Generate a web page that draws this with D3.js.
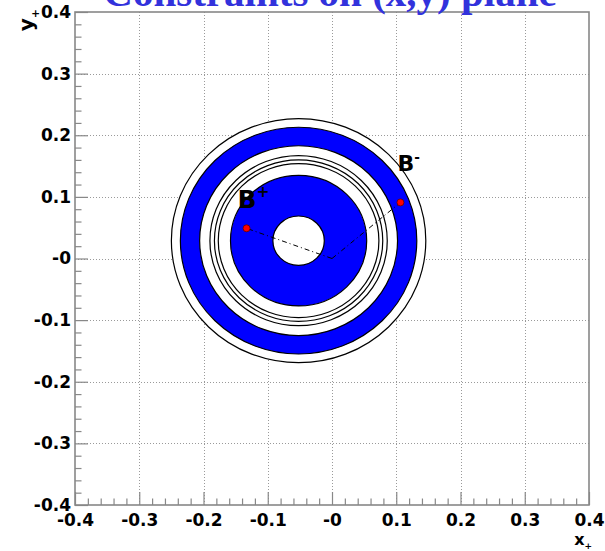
<!DOCTYPE html>
<html>
<head>
<meta charset="utf-8">
<script src="https://cdn.jsdelivr.net/npm/d3@7"></script>
<style>
  body { margin: 0; background: #fff; }
  svg { display: block; }
</style>
</head>
<body>
<div id="chart-area"></div>
<script>
// Constraints on (x,y) plane

var xTicks = [-0.4, -0.3, -0.2, -0.1, 0, 0.1, 0.2, 0.3, 0.4];
var xTickLabels = ["-0.4", "-0.3", "-0.2", "-0.1", "-0", "0.1", "0.2", "0.3", "0.4"];
var yTicks = [-0.4, -0.3, -0.2, -0.1, 0, 0.1, 0.2, 0.3, 0.4];
var yTickLabels = ["-0.4", "-0.3", "-0.2", "-0.1", "-0", "0.1", "0.2", "0.3", "0.4"];

// rings around a common centre
var ringCenter = [-0.052, 0.029];
var bandRadii = [[0.154, 0.184], [0.040, 0.106]];   // filled blue bands
var contourRadii = [0.198, 0.138, 0.131, 0.125];     // open contours

// measured points
var pointNames = ["+", "-"];
var pointX = [-0.133, 0.1065];
var pointY = [0.049, 0.091];
var origin = [0, 0];

var width = 605, height = 551;
var margin = { left: 75, right: 16, top: 12, bottom: 46 };

var svg = d3.select("#chart-area")
    .append("svg")
    .attr("width", width)
    .attr("height", height);

var x = d3.scaleLinear()
    .domain([-0.4, 0.4])
    .range([margin.left, width - margin.right]);

var y = d3.scaleLinear()
    .domain([-0.4, 0.4])
    .range([height - margin.bottom, margin.top]);

var minorTicks = d3.range(-40, 41, 2)
    .map(function(d) { return d / 100; })
    .filter(function(d) { return Math.abs(Math.round(d * 100) % 10) !== 0; });

// grid
var grid = svg.append("g")
    .attr("stroke", "#9a9a9a")
    .attr("stroke-width", 1)
    .attr("stroke-dasharray", "1,2");

grid.selectAll(".gx")
    .data(xTicks.slice(1, -1))
  .enter().append("line")
    .attr("x1", function(d) { return Math.round(x(d)) + 0.5; })
    .attr("x2", function(d) { return Math.round(x(d)) + 0.5; })
    .attr("y1", y(0.4))
    .attr("y2", y(-0.4));

grid.selectAll(".gy")
    .data(yTicks.slice(1, -1))
  .enter().append("line")
    .attr("y1", function(d) { return Math.round(y(d)) + 0.5; })
    .attr("y2", function(d) { return Math.round(y(d)) + 0.5; })
    .attr("x1", x(-0.4))
    .attr("x2", x(0.4));

function ellipse(r) {
  var cx = x(ringCenter[0]), cy = y(ringCenter[1]);
  var rx = x(ringCenter[0] + r) - cx, ry = cy - y(ringCenter[1] + r);
  return "M" + (cx - rx) + "," + cy +
    "A" + rx + "," + ry + " 0 1 0 " + (cx + rx) + "," + cy +
    "A" + rx + "," + ry + " 0 1 0 " + (cx - rx) + "," + cy + "Z";
}

var rings = svg.append("g");

// white disc under everything inside the outer contour
rings.append("path")
    .attr("d", ellipse(d3.max(contourRadii)))
    .attr("fill", "#fff")
    .attr("stroke", "none");

rings.selectAll(".band")
    .data(bandRadii)
  .enter().append("path")
    .attr("d", function(d) { return ellipse(d[1]) + ellipse(d[0]); })
    .attr("fill", "#0000ff")
    .attr("fill-rule", "evenodd")
    .attr("stroke", "#000")
    .attr("stroke-width", 1.2);

rings.selectAll(".contour")
    .data(contourRadii)
  .enter().append("path")
    .attr("d", function(d) { return ellipse(d); })
    .attr("fill", "none")
    .attr("stroke", "#000")
    .attr("stroke-width", 1.2);

// dash-dot lines from the origin to each point
svg.append("g").selectAll("line")
    .data(pointX)
  .enter().append("line")
    .attr("x1", x(origin[0]))
    .attr("y1", y(origin[1]))
    .attr("x2", function(d) { return x(d); })
    .attr("y2", function(d, i) { return y(pointY[i]); })
    .attr("stroke", "#000")
    .attr("stroke-width", 1)
    .attr("stroke-dasharray", "5,3,1,3");

svg.append("g").selectAll("circle")
    .data(pointX)
  .enter().append("circle")
    .attr("cx", function(d) { return x(d); })
    .attr("cy", function(d, i) { return y(pointY[i]); })
    .attr("r", 3.5)
    .attr("fill", "#ff0000")
    .attr("stroke", "#600")
    .attr("stroke-width", 0.8);

// point labels
var labelOffset = [[-9, -20, 25], [-3, -31, 22]];
var labels = svg.append("g")
    .attr("font-family", "DejaVu Sans, sans-serif")
    .attr("font-weight", "bold")
    .attr("fill", "#000");

pointNames.forEach(function(name, i) {
  var o = labelOffset[i];
  var t = labels.append("text")
      .attr("x", x(pointX[i]) + o[0])
      .attr("y", y(pointY[i]) + o[1])
      .attr("font-size", o[2]);
  t.append("tspan").text("B");
  t.append("tspan")
      .attr("font-size", o[2] * 0.62)
      .attr("dy", -o[2] * 0.45)
      .text(name);
});

// axes (ticks inside the frame, ROOT style)
var axisColor = "#888";

var gx = svg.append("g")
    .attr("transform", "translate(0," + y(-0.4) + ")")
    .call(d3.axisBottom(x).tickValues(xTicks).tickSize(-13).tickPadding(9)
      .tickFormat(function(d, i) { return xTickLabels[i]; }));

var gxMinor = svg.append("g")
    .attr("transform", "translate(0," + y(-0.4) + ")")
    .call(d3.axisBottom(x).tickValues(minorTicks).tickSize(-6.5).tickFormat(""));

var gy = svg.append("g")
    .attr("transform", "translate(" + x(-0.4) + ",0)")
    .call(d3.axisLeft(y).tickValues(yTicks).tickSize(-13).tickPadding(4)
      .tickFormat(function(d, i) { return yTickLabels[i]; }));

var gyMinor = svg.append("g")
    .attr("transform", "translate(" + x(-0.4) + ",0)")
    .call(d3.axisLeft(y).tickValues(minorTicks).tickSize(-6.5).tickFormat(""));

[gx, gxMinor, gy, gyMinor].forEach(function(g) {
  g.select(".domain").remove();
  g.selectAll(".tick line").attr("stroke", axisColor).attr("stroke-width", 1.2);
  g.selectAll("text")
      .attr("fill", "#000")
      .attr("font-family", "DejaVu Sans, sans-serif")
      .attr("font-weight", "bold")
      .attr("font-size", 17);
});

// frame
svg.append("rect")
    .attr("x", x(-0.4))
    .attr("y", y(0.4))
    .attr("width", x(0.4) - x(-0.4))
    .attr("height", y(-0.4) - y(0.4))
    .attr("fill", "none")
    .attr("stroke", axisColor)
    .attr("stroke-width", 1.6);

// axis titles
var xt = svg.append("text")
    .attr("x", 592)
    .attr("y", 545)
    .attr("text-anchor", "end")
    .attr("font-family", "DejaVu Sans, sans-serif")
    .attr("font-weight", "bold")
    .attr("font-size", 16);
xt.append("tspan").text("x");
xt.append("tspan").attr("font-size", 9).attr("dy", 4).text("+");

var yt = svg.append("text")
    .attr("transform", "translate(33,9) rotate(-90)")
    .attr("text-anchor", "end")
    .attr("font-family", "DejaVu Sans, sans-serif")
    .attr("font-weight", "bold")
    .attr("font-size", 20);
yt.append("tspan").text("y");
yt.append("tspan").attr("font-size", 11).attr("dy", 6).text("+");

// title, cut off by the top edge as in the original
svg.append("text")
    .attr("x", 330)
    .attr("y", 6)
    .attr("text-anchor", "middle")
    .attr("font-family", "Liberation Serif, serif")
    .attr("font-weight", "bold")
    .attr("font-size", 41)
    .attr("fill", "#3232dc")
    .text("Constraints on (x,y) plane");
</script>
</body>
</html>
